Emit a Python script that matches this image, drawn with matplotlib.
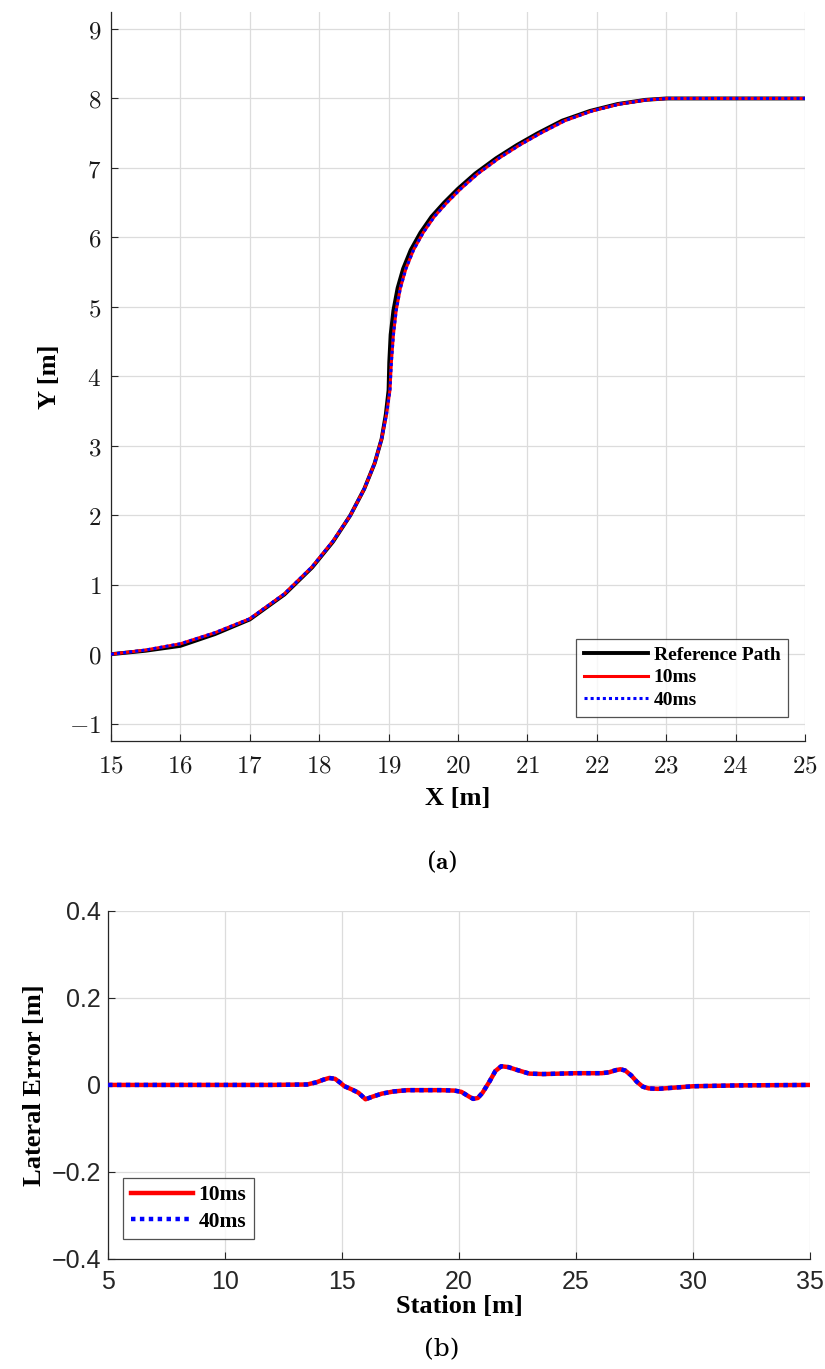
import numpy as np
import matplotlib
matplotlib.use("Agg")
import matplotlib.pyplot as plt

plt.rcParams['mathtext.fontset'] = 'cm'

# ---------------- data: (a) path ----------------
ref_x = [15.0, 15.5, 16.0, 16.5, 17.0, 17.5, 17.9, 18.2, 18.45, 18.65, 18.8, 18.9, 18.96,
         19.0, 19.01, 19.03, 19.07, 19.13, 19.21, 19.32, 19.46, 19.62, 19.8, 20.0, 20.25,
         20.55, 20.85, 21.15, 21.5, 21.9, 22.3, 22.7, 23.0, 24.0, 25.0]
ref_y = [0.0, 0.05, 0.12, 0.29, 0.5, 0.86, 1.25, 1.62, 2.0, 2.38, 2.75, 3.1, 3.45,
         3.8, 4.2, 4.6, 4.95, 5.27, 5.55, 5.82, 6.07, 6.3, 6.5, 6.7, 6.92,
         7.14, 7.33, 7.5, 7.68, 7.82, 7.92, 7.98, 8.0, 8.0, 8.0]
trk_x = [15.0, 15.5, 16.0, 16.5, 17.0, 17.5, 17.9, 18.2, 18.45, 18.65, 18.8, 18.9, 18.97,
         19.02, 19.04, 19.07, 19.11, 19.17, 19.25, 19.36, 19.5, 19.66, 19.84, 20.04, 20.29,
         20.59, 20.89, 21.19, 21.54, 21.93, 22.33, 22.72, 23.02, 24.0, 25.0]
trk_y = [0.0, 0.06, 0.15, 0.31, 0.51, 0.87, 1.26, 1.63, 2.0, 2.38, 2.75, 3.1, 3.45,
         3.8, 4.2, 4.6, 4.95, 5.27, 5.55, 5.82, 6.07, 6.3, 6.5, 6.7, 6.92,
         7.14, 7.33, 7.5, 7.68, 7.82, 7.92, 7.98, 8.0, 8.0, 8.0]

# ---------------- data: (b) lateral error ----------------
station = [5.0, 8.0, 10.0, 12.0, 13.5, 13.9, 14.2, 14.45, 14.7, 14.9, 15.1, 15.4, 15.7,
           16.0, 16.3, 16.7, 17.2, 17.8, 18.5, 19.2, 19.8, 20.1, 20.4, 20.6, 20.8,
           21.0, 21.3, 21.55, 21.8, 22.1, 22.5, 23.0, 23.6, 24.3, 25.0, 25.6, 26.1,
           26.4, 26.7, 26.9, 27.1, 27.35, 27.6, 27.85, 28.1, 28.5, 29.0, 29.5, 30.0,
           31.0, 32.0, 35.0]
err_10 = [0.0, 0.0, 0.0, 0.0, 0.001, 0.006, 0.012, 0.016, 0.014, 0.006, -0.003, -0.01, -0.018,
          -0.033, -0.027, -0.02, -0.015, -0.012, -0.012, -0.012, -0.013, -0.016, -0.026, -0.032, -0.03,
          -0.018, 0.008, 0.032, 0.043, 0.041, 0.034, 0.026, 0.025, 0.026, 0.027, 0.027, 0.027,
          0.029, 0.034, 0.036, 0.033, 0.022, 0.007, -0.004, -0.008, -0.009, -0.007, -0.005, -0.003,
          -0.002, -0.001, 0.0]
err_40 = err_10

# ---------------- labels ----------------
a_xticks = list(range(15, 26))
a_yticks = list(range(-1, 10))
a_xticklabels = [r'$%d$' % v for v in a_xticks]
a_yticklabels = [r'$-1$'] + [r'$%d$' % v for v in a_yticks[1:]]
b_xticks = [5, 10, 15, 20, 25, 30, 35]
b_yticks = [-0.4, -0.2, 0.0, 0.2, 0.4]
b_yticklabels = ['\u22120.4', '\u22120.2', '0', '0.2', '0.4']

serif_b = ['Liberation Serif', 'DejaVu Serif']
sans = ['Liberation Sans', 'DejaVu Sans']

fig = plt.figure(figsize=(8.25, 13.69), dpi=100)

# ---------------- (a) ----------------
ax1 = fig.add_axes([0.1345, 0.4587, 0.8412, 0.5328])
ax1.plot(ref_x, ref_y, color='black', lw=2.8, label='Reference Path', zorder=3)
ax1.plot(trk_x, trk_y, color='red', lw=2.2, label='10ms', zorder=4)
ax1.plot(trk_x, trk_y, color='blue', lw=2.2, ls=(0, (1, 1)), label='40ms', zorder=5)
ax1.set_xlim(15, 25)
ax1.set_ylim(-1.25, 9.25)
ax1.set_xticks(a_xticks)
ax1.set_xticklabels(a_xticklabels)
ax1.set_yticks(a_yticks)
ax1.set_yticklabels(a_yticklabels)
ax1.tick_params(direction='in', length=5, width=0.8, labelsize=18, colors='#262626',
                labelcolor='#1a1a1a')
ax1.tick_params(axis='x', pad=9)
ax1.tick_params(axis='y', pad=7)
ax1.grid(True, color='#dcdcdc', lw=0.9)
ax1.set_axisbelow(True)
for s in ['top', 'right']:
    ax1.spines[s].set_visible(False)
for s in ['left', 'bottom']:
    ax1.spines[s].set_color('#262626')
    ax1.spines[s].set_linewidth(0.9)
ax1.set_xlabel('X [m]', family=serif_b, fontweight='bold', fontsize=19, labelpad=7)
ax1.set_ylabel('Y [m]', family=serif_b, fontweight='bold', fontsize=19, labelpad=6)
leg1 = ax1.legend(loc='lower right', bbox_to_anchor=(0.99, 0.02), frameon=True, fancybox=False,
                  edgecolor='#262626', handlelength=3.3, handletextpad=0.3, borderpad=0.4,
                  labelspacing=0.25, prop={'family': serif_b, 'weight': 'bold', 'size': 14})
leg1.get_frame().set_linewidth(0.9)

fig.text(0.536, 1 - 862 / 1369, r'($\mathbf{a}$)', ha='center', va='center', fontsize=18,
         family=['DejaVu Serif'])

# ---------------- (b) ----------------
ax2 = fig.add_axes([0.131, 0.0804, 0.851, 0.2542])
ax2.plot(station, err_10, color='red', lw=3.2, label='10ms', zorder=4)
ax2.plot(station, err_40, color='blue', lw=3.2, ls=(0, (1, 1)), label='40ms', zorder=5)
ax2.set_xlim(5, 35)
ax2.set_ylim(-0.4, 0.4)
ax2.set_xticks(b_xticks)
ax2.set_yticks(b_yticks)
ax2.set_yticklabels(b_yticklabels)
for lab in ax2.get_xticklabels() + ax2.get_yticklabels():
    lab.set_family(sans)
ax2.tick_params(direction='in', length=5, width=0.8, labelsize=18, colors='#262626',
                labelcolor='#262626')
ax2.tick_params(axis='x', pad=8)
ax2.tick_params(axis='y', pad=5)
ax2.grid(True, color='#dcdcdc', lw=0.9)
ax2.set_axisbelow(True)
for s in ['top', 'right']:
    ax2.spines[s].set_visible(False)
for s in ['left', 'bottom']:
    ax2.spines[s].set_color('#262626')
    ax2.spines[s].set_linewidth(0.9)
ax2.set_xlabel('Station [m]', family=serif_b, fontweight='bold', fontsize=19, labelpad=1)
ax2.set_ylabel('Lateral Error [m]', family=serif_b, fontweight='bold', fontsize=19, labelpad=4)
leg2 = ax2.legend(loc='lower left', bbox_to_anchor=(0.006, 0.025), frameon=True, fancybox=False,
                  edgecolor='#262626', handlelength=2.9, handletextpad=0.25, borderpad=0.35,
                  labelspacing=0.3, prop={'family': serif_b, 'weight': 'bold', 'size': 15.5})
leg2.get_frame().set_linewidth(0.9)

fig.text(0.536, 1 - 1350 / 1369, '(b)', ha='center', va='center', fontsize=18,
         family=['DejaVu Serif'])

fig.savefig('out.png', dpi=100)
